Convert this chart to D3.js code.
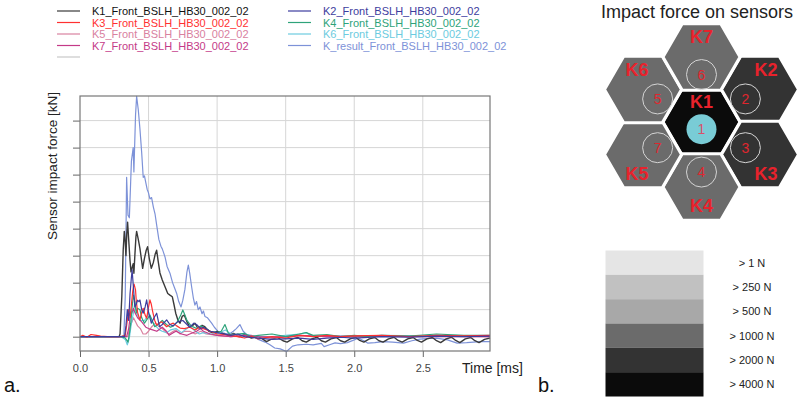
<!DOCTYPE html>
<html>
<head>
<meta charset="utf-8" />
<title>Sensor impact force</title>
<script src="https://d3js.org/d3.v7.min.js"></script>
<style>
  body { margin: 0; padding: 0; background: #ffffff; }
  #chart { position: absolute; left: 0; top: 0; width: 799px; height: 400px; }
  text { font-family: "Liberation Sans", Arial, sans-serif; }
</style>
</head>
<body>
<div id="chart"></div>
<script>

// ---- data (time in ms, force in grid units) ----
const seriesNames = ['K1_Front_BSLH_HB30_002_02', 'K2_Front_BSLH_HB30_002_02', 'K3_Front_BSLH_HB30_002_02',
  'K4_Front_BSLH_HB30_002_02', 'K5_Front_BSLH_HB30_002_02', 'K6_Front_BSLH_HB30_002_02',
  'K7_Front_BSLH_HB30_002_02', 'K_result_Front_BSLH_HB30_002_02']
const seriesColors = ['#3a3a3a', '#3d3d9e', '#ff3030', '#2ea37a', '#d9819f', '#6ccbe0', '#c43a88', '#7d92d8']

const k1 = [[0,0],[0.1,0],[0.2,0],[0.285,0],[0.292,0.1],[0.305,1.5],[0.315,3.2],[0.323,3.9],[0.33,3.5],[0.335,3.0],[0.341,3.8],[0.347,4.24],[0.355,3.6],[0.365,2.8],[0.372,2.4],[0.38,2.55],[0.388,2.7],[0.393,2.35],[0.4,3.0],[0.408,3.7],[0.413,3.9],[0.425,3.6],[0.437,3.27],[0.447,2.9],[0.457,2.53],[0.47,2.9],[0.483,3.2],[0.493,3.33],[0.505,2.9],[0.52,2.53],[0.535,2.75],[0.548,3.05],[0.559,3.2],[0.57,2.8],[0.583,2.36],[0.6,2.1],[0.62,1.85],[0.64,1.6],[0.656,1.54],[0.673,1.48],[0.685,1.2],[0.698,0.87],[0.715,0.6],[0.729,0.5],[0.745,0.75],[0.76,0.8],[0.78,0.55],[0.8,0.37],[0.82,0.4],[0.838,0.5],[0.855,0.35],[0.875,0.32],[0.89,0.42],[0.91,0.37],[0.94,0.2],[0.97,0.14],[1.0,0.2],[1.04,0.12],[1.08,0.05],[1.12,0.12],[1.16,0.0],[1.2,0.08],[1.25,-0.05],[1.3,0.02],[1.33,-0.08],[1.36,-0.18],[1.4,-0.08],[1.44,-0.03],[1.48,-0.15],[1.51,-0.2],[1.55,-0.08],[1.59,-0.03],[1.62,-0.15],[1.65,-0.2],[1.69,-0.08],[1.73,-0.02],[1.76,-0.15],[1.79,-0.2],[1.83,-0.08],[1.87,-0.03],[1.9,-0.15],[1.93,-0.2],[1.97,-0.08],[2.01,-0.02],[2.04,-0.14],[2.07,-0.2],[2.11,-0.08],[2.15,-0.03],[2.18,-0.15],[2.21,-0.2],[2.25,-0.08],[2.29,-0.02],[2.32,-0.14],[2.35,-0.2],[2.39,-0.08],[2.43,-0.03],[2.46,-0.14],[2.49,-0.2],[2.53,-0.08],[2.57,-0.03],[2.6,-0.15],[2.63,-0.22],[2.67,-0.08],[2.71,-0.02],[2.74,-0.14],[2.77,-0.22],[2.81,-0.08],[2.85,-0.03],[2.88,-0.15],[2.91,-0.22],[2.95,-0.1],[2.99,-0.05]]

const k2 = [[0,0],[0.1,0],[0.2,0],[0.3,0],[0.325,0],[0.335,0.4],[0.345,1.0],[0.355,0.6],[0.365,1.6],[0.375,2.2],[0.38,2.47],[0.39,1.8],[0.4,1.1],[0.41,1.2],[0.42,1.35],[0.43,1.3],[0.437,1.36],[0.45,1.0],[0.461,0.87],[0.475,1.1],[0.486,1.36],[0.5,0.9],[0.52,0.5],[0.54,0.7],[0.559,0.87],[0.58,0.37],[0.6,0.45],[0.632,0.62],[0.655,0.45],[0.68,0.4],[0.71,0.55],[0.75,0.6],[0.78,0.45],[0.8,0.35],[0.83,0.5],[0.85,0.45],[0.88,0.3],[0.9,0.35],[0.95,0.2],[1.0,0.15],[1.05,0.1],[1.1,0.05],[1.15,0.1],[1.2,0.0],[1.3,-0.05],[1.4,-0.1],[1.5,-0.08],[1.6,-0.05],[1.7,-0.1],[1.8,-0.05],[1.9,-0.02],[2.0,-0.05],[2.2,0.0],[2.4,-0.02],[2.6,0.02],[2.8,0.0],[2.99,0.02]]

const k3 = [[0,0],[0.02,0.05],[0.05,-0.02],[0.08,0.08],[0.12,0.05],[0.15,0.02],[0.2,0],[0.3,0],[0.33,0.05],[0.345,0.6],[0.355,1.0],[0.365,0.7],[0.375,1.2],[0.385,1.7],[0.394,1.95],[0.405,1.73],[0.41,1.36],[0.42,0.9],[0.437,0.62],[0.45,0.9],[0.461,1.05],[0.475,0.8],[0.486,0.68],[0.5,1.1],[0.51,1.36],[0.52,1.2],[0.53,0.93],[0.545,0.6],[0.559,0.43],[0.575,0.5],[0.595,0.55],[0.615,0.45],[0.632,0.37],[0.655,0.45],[0.68,0.5],[0.705,0.4],[0.73,0.32],[0.76,0.3],[0.8,0.35],[0.84,0.25],[0.87,0.35],[0.9,0.3],[0.95,0.2],[1.0,0.1],[1.05,0.08],[1.1,0.05],[1.15,0.0],[1.2,-0.05],[1.25,0.02],[1.3,-0.08],[1.4,0.0],[1.5,-0.05],[1.6,0.05],[1.7,0.0],[1.8,0.05],[1.9,0.0],[2.0,0.03],[2.2,0.05],[2.4,0.0],[2.6,0.05],[2.8,0.03],[2.99,0.05]]

const k4 = [[0,0],[0.3,0],[0.33,-0.05],[0.35,-0.2],[0.36,0.1],[0.37,0.5],[0.38,1.1],[0.39,1.54],[0.4,1.3],[0.41,0.87],[0.42,1.05],[0.437,1.0],[0.45,0.7],[0.47,0.5],[0.49,0.65],[0.51,0.8],[0.53,0.55],[0.545,0.37],[0.57,0.45],[0.6,0.6],[0.63,0.45],[0.66,0.35],[0.68,0.4],[0.71,0.55],[0.735,0.8],[0.75,0.99],[0.765,0.8],[0.78,0.6],[0.81,0.4],[0.85,0.3],[0.88,0.4],[0.9,0.35],[0.95,0.2],[1.0,0.15],[1.03,0.2],[1.057,0.45],[1.08,0.15],[1.1,0.05],[1.15,0.1],[1.2,0.12],[1.25,0.0],[1.3,0.05],[1.4,0.1],[1.5,0.0],[1.6,0.1],[1.65,0.15],[1.7,0.05],[1.8,0.08],[1.9,0.0],[2.0,0.05],[2.1,0.0],[2.2,0.05],[2.4,0.02],[2.6,0.1],[2.8,0.05],[2.99,0.05]]

const k5 = [[0,0],[0.3,0],[0.35,0],[0.36,0.3],[0.375,0.5],[0.39,0.7],[0.405,0.55],[0.42,0.4],[0.44,0.3],[0.46,0.1],[0.48,0.1],[0.5,0.2],[0.52,0.35],[0.55,0.5],[0.57,0.4],[0.6,0.3],[0.63,0.15],[0.65,0.1],[0.68,0.2],[0.7,0.25],[0.73,0.1],[0.76,0.2],[0.8,0.2],[0.84,0.1],[0.88,0.2],[0.92,0.1],[1.0,0.05],[1.1,0.0],[1.2,0.05],[1.3,0.0],[1.4,-0.05],[1.5,0.0],[1.6,0.05],[1.8,0.0],[2.0,0.0],[2.5,0.02],[2.99,0.0]]

const k6 = [[0,0],[0.3,0],[0.33,-0.1],[0.345,-0.3],[0.36,-0.05],[0.375,0.5],[0.39,0.9],[0.4,1.3],[0.41,1.0],[0.42,0.8],[0.44,0.6],[0.47,0.6],[0.49,0.75],[0.5,0.9],[0.52,0.6],[0.55,0.4],[0.58,0.25],[0.6,0.2],[0.63,0.15],[0.66,0.25],[0.7,0.3],[0.74,0.15],[0.78,0.3],[0.8,0.4],[0.83,0.25],[0.87,0.1],[0.9,0.15],[0.95,0.1],[1.0,0.1],[1.06,0.25],[1.1,0.1],[1.2,0.05],[1.3,0.0],[1.4,0.0],[1.5,0.05],[1.6,0.1],[1.65,0.15],[1.7,0.0],[1.8,0.05],[2.0,0.0],[2.2,0.05],[2.5,0.03],[2.99,0.02]]

const k7 = [[0,0],[0.3,0],[0.34,0],[0.355,0.3],[0.365,0.7],[0.38,0.9],[0.39,1.05],[0.4,0.9],[0.42,0.7],[0.45,0.55],[0.48,0.35],[0.5,0.3],[0.53,0.25],[0.56,0.2],[0.6,0.35],[0.63,0.2],[0.65,0.05],[0.68,0.15],[0.7,0.2],[0.74,0.1],[0.78,0.05],[0.8,0.1],[0.85,0.2],[0.88,0.3],[0.9,0.2],[0.95,0.1],[1.0,0.05],[1.1,0.0],[1.2,0.05],[1.3,0.0],[1.4,-0.02],[1.5,0.0],[1.6,0.05],[1.8,0.0],[2.0,0.02],[2.5,0.0],[2.99,0.0]]

const kResult = [[0,0],[0.1,0],[0.2,0],[0.3,0],[0.32,0.05],[0.33,1.5],[0.34,5.9],[0.35,4.5],[0.36,4.4],[0.375,6.5],[0.388,7.0],[0.393,6.1],[0.405,8.2],[0.413,8.9],[0.425,8.4],[0.437,7.7],[0.45,6.8],[0.461,5.9],[0.47,5.95],[0.478,5.75],[0.49,5.45],[0.498,5.35],[0.51,5.1],[0.522,5.15],[0.535,4.8],[0.547,4.55],[0.56,4.1],[0.575,3.6],[0.59,3.35],[0.6,3.25],[0.607,3.15],[0.62,2.95],[0.635,2.6],[0.656,2.35],[0.675,2.0],[0.69,1.8],[0.705,1.6],[0.72,1.3],[0.737,1.1],[0.75,1.35],[0.765,1.75],[0.78,2.4],[0.79,2.65],[0.8,2.35],[0.814,1.85],[0.826,1.45],[0.838,1.17],[0.85,1.3],[0.862,1.0],[0.875,1.1],[0.89,0.85],[0.9,0.95],[0.911,0.75],[0.93,0.7],[0.96,0.5],[0.98,0.35],[1.008,0.19],[1.03,0.15],[1.057,0.12],[1.09,0.1],[1.118,0.2],[1.14,0.3],[1.166,0.45],[1.19,0.2],[1.215,0.08],[1.25,0.05],[1.3,-0.1],[1.35,-0.2],[1.385,-0.3],[1.42,-0.42],[1.46,-0.45],[1.506,-0.55],[1.55,-0.35],[1.59,-0.3],[1.65,-0.28],[1.7,-0.3],[1.76,-0.25],[1.78,-0.37],[1.82,-0.3],[1.86,-0.23],[1.9,-0.26],[1.95,-0.22],[2.0,-0.12],[2.03,-0.06],[2.07,-0.15],[2.1,-0.24],[2.15,-0.22],[2.21,-0.18],[2.28,-0.2],[2.36,-0.24],[2.42,-0.15],[2.48,-0.09],[2.55,-0.06],[2.6,-0.05],[2.68,-0.12],[2.75,-0.24],[2.82,-0.22],[2.92,-0.18],[2.99,-0.18]]

const seriesData = [k1, k2, k3, k4, k5, k6, k7, kResult]
const xTicks = [0, 0.5, 1.0, 1.5, 2.0, 2.5]
const yTicks = [0, 1, 2, 3, 4, 5, 6, 7, 8]

// hexagon panel
const sensorNames = ['K1', 'K2', 'K3', 'K4', 'K5', 'K6', 'K7']
const sensorCol = [0, 1, 1, 0, -1, -1, 0]
const sensorRow = [0, -0.5, 0.5, 1, 0.5, -0.5, -1]
const sensorLevel = [5, 4, 4, 3, 3, 3, 3]
const circleNum = ['1', '2', '3', '4', '7', '5', '6']
const levelLabels = ['> 1 N', '> 250 N', '> 500 N', '> 1000 N', '> 2000 N', '> 4000 N']
const levelColors = ['#e5e5e5', '#c1c1c1', '#a8a8a8', '#6b6b6b', '#333333', '#0b0b0b']

const svg = d3.select('#chart').append('svg')
  .attr('width', 799).attr('height', 400)

// ---- line chart ----
const x = d3.scaleLinear().domain([0, 2.99]).range([80, 490])
const y = d3.scaleLinear().domain([-0.53, 8.91]).range([351, 96])

const grid = svg.append('g')
grid.selectAll('.hg').data(yTicks).enter().append('line')
  .attr('x1', 80).attr('x2', 490)
  .attr('y1', d => y(d)).attr('y2', d => y(d))
  .attr('stroke', '#d6d6d6').attr('stroke-width', 1)
grid.selectAll('.vg').data(xTicks.slice(1)).enter().append('line')
  .attr('x1', d => x(d)).attr('x2', d => x(d))
  .attr('y1', 96).attr('y2', 351)
  .attr('stroke', '#d6d6d6').attr('stroke-width', 1)

svg.append('g')
  .attr('transform', 'translate(80,0)')
  .call(d3.axisLeft(y).tickValues(yTicks).tickSize(7).tickFormat('').tickSizeOuter(0))
  .call(g => g.select('.domain').remove())
  .call(g => g.selectAll('line').attr('stroke', '#666'))

svg.append('g')
  .attr('transform', 'translate(0,351)')
  .call(d3.axisBottom(x).tickValues(xTicks).tickSize(6).tickPadding(7).tickFormat(d3.format('.1f')).tickSizeOuter(0))
  .call(g => g.select('.domain').remove())
  .call(g => g.selectAll('line').attr('stroke', '#666'))
  .call(g => g.selectAll('text').attr('fill', '#444').attr('font-size', 11)
    .attr('font-family', '"Liberation Sans", Arial, sans-serif'))

const line = d3.line().x(d => x(d[0])).y(d => y(d[1]))
const order = [7, 0, 4, 5, 6, 3, 2, 1]
svg.append('g').selectAll('path').data(order).enter().append('path')
  .attr('d', i => line(seriesData[i]))
  .attr('fill', 'none')
  .attr('stroke', i => seriesColors[i])
  .attr('stroke-width', i => i === 0 ? 1.4 : 1.2)
  .attr('stroke-linejoin', 'round')

// frame
svg.append('rect')
  .attr('x', 80).attr('y', 96).attr('width', 410).attr('height', 255)
  .attr('fill', 'none').attr('stroke', '#777').attr('stroke-width', 1.2)

svg.append('text')
  .attr('transform', 'translate(57,166) rotate(-90)')
  .attr('text-anchor', 'middle')
  .attr('font-size', 13.5).attr('fill', '#222')
  .text('Sensor impact force [kN]')

svg.append('text')
  .attr('x', 462).attr('y', 373)
  .attr('font-size', 14).attr('fill', '#222')
  .text('Time [ms]')

// legend
const leg = svg.append('g')
const legRows = seriesNames.map((n, i) => ({ name: n, color: seriesColors[i], col: i % 2, row: Math.floor(i / 2) }))
const legItem = leg.selectAll('g').data(legRows).enter().append('g')
  .attr('transform', d => 'translate(' + (d.col ? 288 : 57) + ',' + (11 + d.row * 11.5) + ')')
legItem.append('line').attr('x1', 0).attr('x2', 23)
  .attr('stroke', d => d.color).attr('stroke-width', 1.2)
legItem.append('text').attr('x', 35).attr('y', 4)
  .attr('font-size', 11).attr('fill', d => d.col === 0 && d.row === 0 ? '#111' : d.color)
  .text(d => d.name)
leg.append('line').attr('x1', 57).attr('x2', 80).attr('y1', 57).attr('y2', 57)
  .attr('stroke', '#c8c8c8').attr('stroke-width', 1.2)

svg.append('text').attr('x', 4).attr('y', 392)
  .attr('font-family', '"Liberation Serif", "Times New Roman", serif')
  .attr('font-size', 20).attr('fill', '#111').text('a.')
svg.append('text').attr('x', 538).attr('y', 392)
  .attr('font-family', '"Liberation Serif", "Times New Roman", serif')
  .attr('font-size', 20).attr('fill', '#111').text('b.')

// ---- hexagon panel ----
svg.append('text').attr('x', 697).attr('y', 18)
  .attr('text-anchor', 'middle').attr('font-size', 18).attr('fill', '#222')
  .text('Impact force on sensors')

const hx = d3.scaleLinear().domain([-1, 1]).range([643, 760])
const hy = d3.scaleLinear().domain([-1, 1]).range([57, 187])
const hexR = 38.5
const hexPts = d3.range(6).map(k => [hexR * Math.cos(k * Math.PI / 3), hexR * Math.sin(k * Math.PI / 3)])

const sensors = sensorNames.map((n, i) => ({ name: n, col: sensorCol[i], row: sensorRow[i], level: sensorLevel[i], num: circleNum[i] }))
const hex = svg.append('g').selectAll('g').data(sensors).enter().append('g')

hex.append('path')
  .attr('d', d => 'M' + hexPts.map(p => [hx(d.col) + p[0], hy(d.row) + p[1]].join(',')).join('L') + 'Z')
  .attr('fill', d => levelColors[d.level])
  .attr('stroke', '#ffffff').attr('stroke-width', 3)

hex.append('circle')
  .attr('cx', d => hx(d.col * 0.75))
  .attr('cy', d => hy(d.row * 0.75 + (d.name === 'K1' ? 0.11 : 0.02)))
  .attr('r', 15)
  .attr('fill', d => d.name === 'K1' ? '#79ccd6' : 'none')
  .attr('stroke', d => d.name === 'K1' ? 'none' : '#d4d4d4').attr('stroke-width', 1)

hex.append('text')
  .attr('x', d => hx(d.col * 0.75))
  .attr('y', d => hy(d.row * 0.75 + (d.name === 'K1' ? 0.11 : 0.02)) + 5)
  .attr('text-anchor', 'middle').attr('font-size', 14)
  .attr('fill', d => d.name === 'K1' ? '#d8506a' : '#e0262e')
  .text(d => d.num)

hex.append('text')
  .attr('x', d => hx(d.col) + Math.sign(d.col) * 6)
  .attr('y', d => hy(d.row) + (d.row > 0 ? 25 : -14))
  .attr('text-anchor', 'middle').attr('font-size', 18).attr('font-weight', 'bold')
  .attr('fill', '#e8222c')
  .text(d => d.name)

// level legend
const band = d3.scaleBand().domain(levelLabels).range([250.5, 396.5])
const lv = svg.append('g').selectAll('g').data(levelLabels).enter().append('g')
lv.append('rect')
  .attr('x', 605.5).attr('width', 98)
  .attr('y', d => band(d)).attr('height', band.bandwidth())
  .attr('fill', (d, i) => levelColors[i])
lv.append('text')
  .attr('x', 752).attr('y', d => band(d) + band.bandwidth() / 2 + 4)
  .attr('text-anchor', 'middle').attr('font-size', 11).attr('fill', '#222')
  .text(d => d)

</script>
</body>
</html>
